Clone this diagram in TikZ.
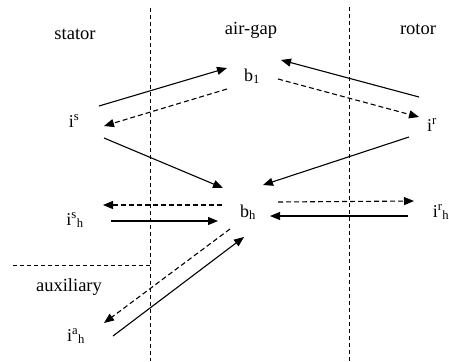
\documentclass[tikz,border=0pt]{standalone}
\usepackage{fontspec}
\setmainfont{Liberation Serif}
\usetikzlibrary{arrows.meta,calc}
\begin{document}
\begin{tikzpicture}[x=1pt,y=-1pt,
  lbl/.style={anchor=base,inner sep=0pt,font=\fontsize{18.5}{22}\selectfont},
  sym/.style={anchor=base,inner sep=0pt,font=\fontsize{18}{22}\selectfont},
  zone/.style={densely dashed,line width=0.9pt,dash pattern=on 4pt off 3pt},
  solidarr/.style={line width=1.1pt,-{Triangle[length=10pt,width=8pt]}},
  dasharr/.style={line width=1.1pt,dash pattern=on 5pt off 3pt,-{Triangle[length=10pt,width=8pt]}}]
\useasboundingbox (0,0) rectangle (449,361);
% region separators
\coordinate (v1t) at (150,8);
\coordinate (v1b) at (150,361);
\coordinate (v2t) at (349,7);
\coordinate (v2b) at (349,361);
\coordinate (hl) at (13,265);
\coordinate (hr) at (150,265);
\draw[zone] (v1t) -- (v1b);
\draw[zone] (v2t) -- (v2b);
\draw[zone] (hl) -- (hr);
% region labels
\node[lbl] (stator) at (75,40) {stator};
\node[lbl] (airgap) at (251,35) {air-gap};
\node[lbl] (rotor) at (418,35) {rotor};
\node[lbl] (aux) at (69,291) {auxiliary};
% quantities
\node[sym] (b1) at (252,81) {b\textsubscript{1}};
\node[sym] (is) at (74,127) {i\textsuperscript{s}};
\node[sym] (ir) at (432,131) {i\textsuperscript{r}};
\node[sym] (bh) at (248,217) {b\textsubscript{h}};
\node[sym] (ish) at (75,225) {i\textsuperscript{s}\textsubscript{h}};
\node[sym] (irh) at (441,217) {i\textsuperscript{r}\textsubscript{h}};
\node[sym] (iah) at (76,341) {i\textsuperscript{a}\textsubscript{h}};
% connectors
\draw[solidarr] ($(is.base)+(25,-21)$) -- ($(b1.base)+(-25,-13)$);
\draw[dasharr] ($(b1.base)+(-25,8)$) -- ($(is.base)+(30,-1)$);
\draw[solidarr] ($(ir.base)+(-13,-34)$) -- ($(b1.base)+(29,-21)$);
\draw[dasharr] ($(b1.base)+(26,-2)$) -- ($(ir.base)+(-13,-14)$);
\draw[solidarr] ($(is.base)+(30,11)$) -- ($(bh.base)+(-25,-29)$);
\draw[solidarr] ($(ir.base)+(-23,6)$) -- ($(bh.base)+(15,-32)$);
\draw[dasharr] ($(bh.base)+(-26,-12)$) -- ($(ish.base)+(28,-20)$);
\draw[solidarr] ($(ish.base)+(36,-4)$) -- ($(bh.base)+(-30,4)$);
\draw[dasharr] ($(bh.base)+(30,-15)$) -- ($(irh.base)+(-27,-16)$);
\draw[solidarr] ($(irh.base)+(-33,-1)$) -- ($(bh.base)+(22,-1)$);
\draw[dasharr] ($(bh.base)+(-18,12)$) -- ($(iah.base)+(28,-18)$);
\draw[solidarr] ($(iah.base)+(37,-5)$) -- ($(bh.base)+(-4,20)$);
\end{tikzpicture}
\end{document}
